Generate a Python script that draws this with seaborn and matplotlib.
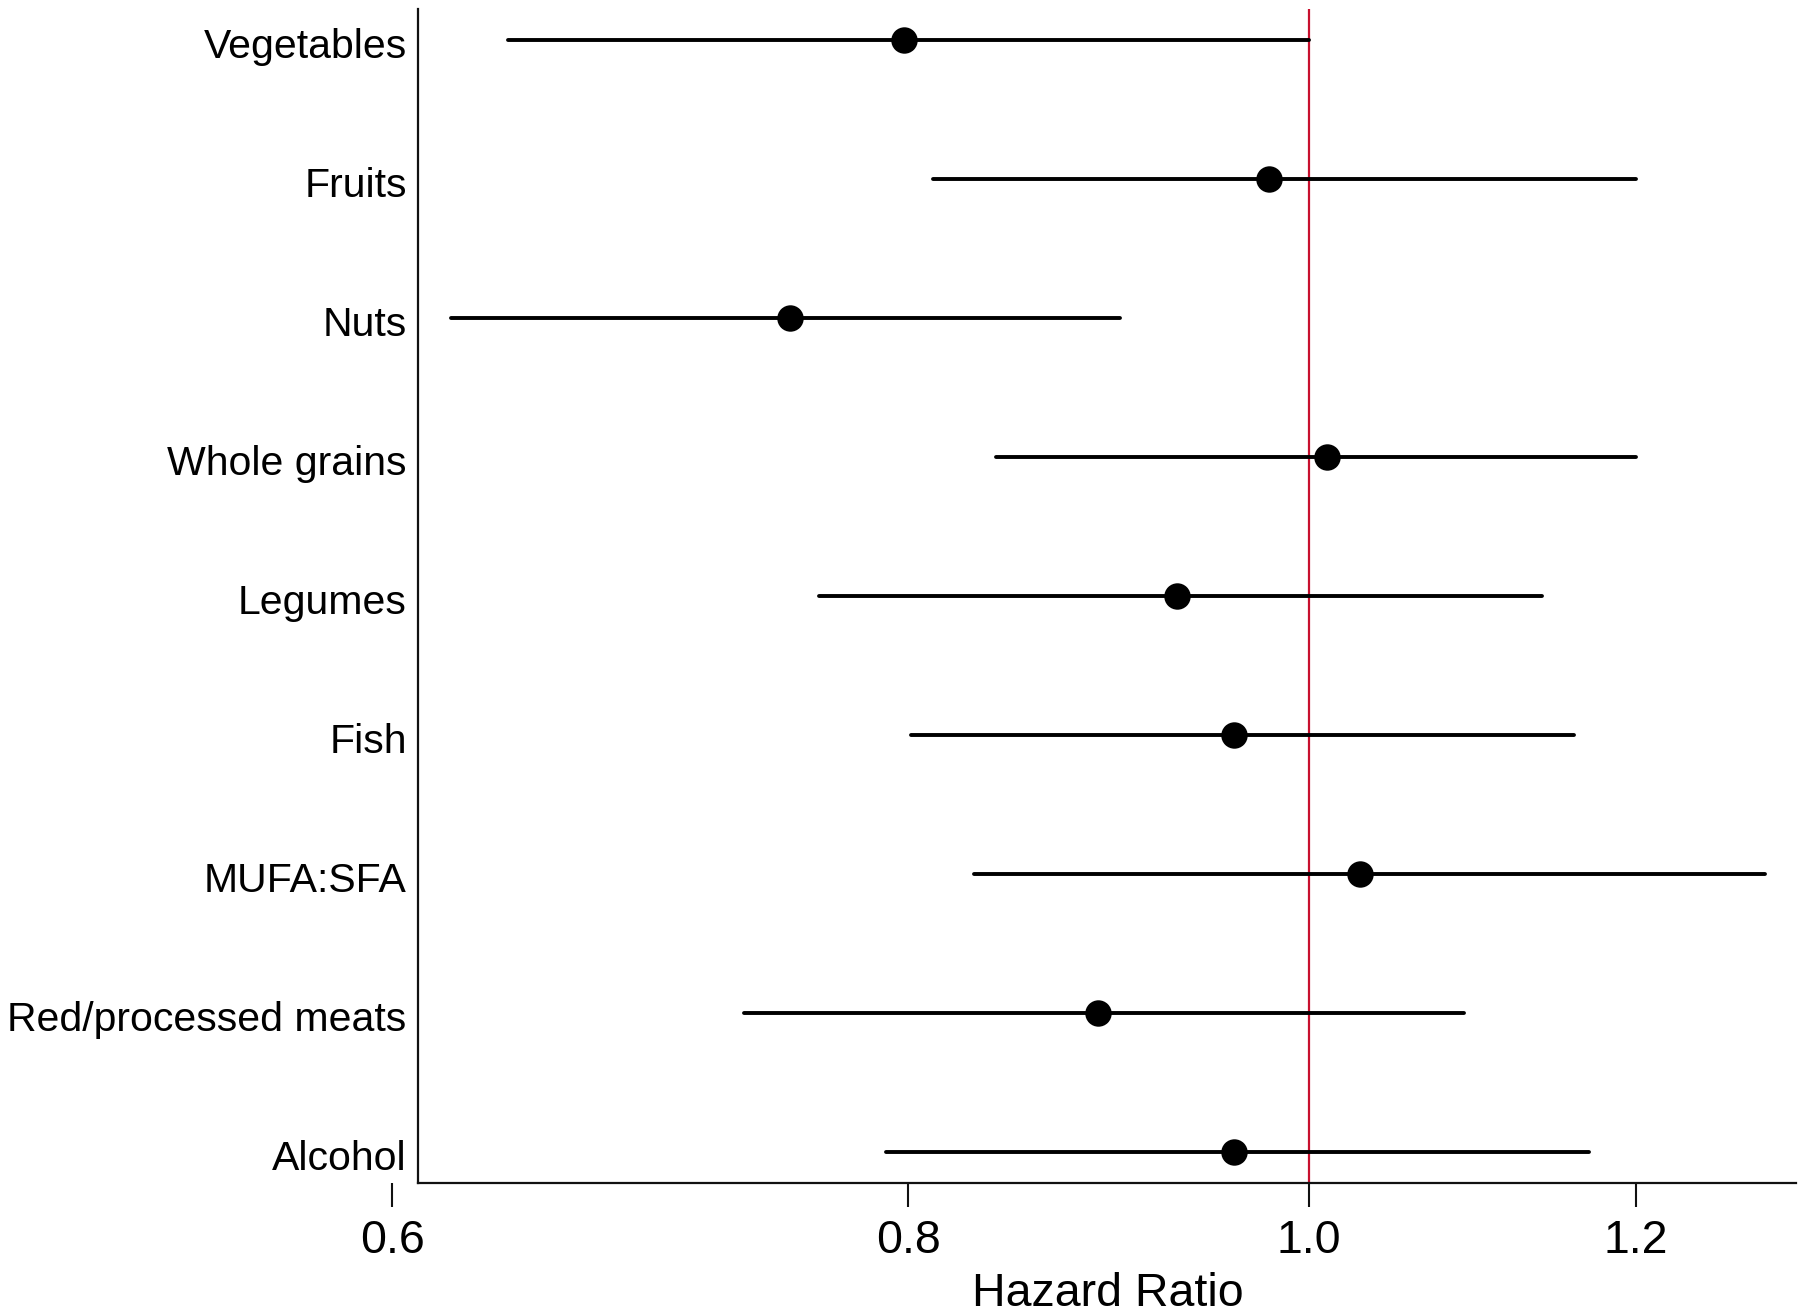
import matplotlib
matplotlib.use("Agg")
import matplotlib.pyplot as plt
from matplotlib.ticker import NullLocator, FixedLocator, FixedFormatter
from matplotlib.transforms import ScaledTranslation
import seaborn as sns
import pandas as pd

# ---- data ----
categories = ["Vegetables", "Fruits", "Nuts", "Whole grains", "Legumes",
              "Fish", "MUFA:SFA", "Red/processed meats", "Alcohol"]
hazard_ratio = [0.798, 0.978, 0.749, 1.010, 0.929, 0.959, 1.029, 0.889, 0.959]
ci_lower = [0.640, 0.811, 0.620, 0.840, 0.761, 0.801, 0.830, 0.730, 0.790]
ci_upper = [1.000, 1.200, 0.900, 1.200, 1.139, 1.159, 1.289, 1.090, 1.169]
x_ticks = [0.6, 0.8, 1.0, 1.2]
x_tick_labels = ["0.6", "0.8", "1.0", "1.2"]
reference_value = 1.0
x_axis_label = "Hazard Ratio"

# long-form table: median of (lower, estimate, upper) = estimate,
# 100% percentile interval = (lower, upper)
rows = []
for c, lo, est, hi in zip(categories, ci_lower, hazard_ratio, ci_upper):
    for v in (lo, est, hi):
        rows.append({"category": c, "hr": v})
df = pd.DataFrame(rows)

sns.set_style("ticks")
plt.rcParams["font.family"] = ["Liberation Sans", "DejaVu Sans"]
plt.rcParams["text.color"] = "black"
plt.rcParams["axes.labelcolor"] = "black"
plt.rcParams["xtick.color"] = "black"
plt.rcParams["ytick.color"] = "black"

fig = plt.figure(figsize=(18.10, 13.16), dpi=100)
ax = fig.add_axes([392 / 1810, 1 - 1183 / 1316, (1796 - 392) / 1810, (1183 - 9) / 1316])
ax.set_xscale("log")

sns.pointplot(data=df, x="hr", y="category", order=categories,
              estimator="median", errorbar=("pi", 100), orient="h",
              color="black", linestyle="none", markers="o", markersize=17,
              err_kws={"linewidth": 2.8}, capsize=0, ax=ax, zorder=3)

ax.axvline(reference_value, color="#C8102E", linewidth=1.6, zorder=1)

x_lo, x_hi, x_spine = 0.6, 1.3118, 0.6087
ax.set_xlim(x_lo, x_hi)
ax.set_ylim(len(categories) - 1 + 0.223, -0.223)

ax.xaxis.set_major_locator(FixedLocator(x_ticks))
ax.xaxis.set_major_formatter(FixedFormatter(x_tick_labels))
ax.xaxis.set_minor_locator(NullLocator())

for s in ("top", "right"):
    ax.spines[s].set_visible(False)
ax.spines["left"].set_position(("data", x_spine))
ax.spines["bottom"].set_bounds(x_spine, x_hi)
for s in ("left", "bottom"):
    ax.spines[s].set_linewidth(1.6)
    ax.spines[s].set_color("#111111")

ax.tick_params(axis="x", direction="out", length=17, width=1.5,
               labelsize=33.5, pad=9, color="#111111", labelcolor="black")
ax.tick_params(axis="y", length=0, labelsize=29.5, pad=8, labelcolor="black")

ax.set_ylabel("")
ax.set_xlabel(x_axis_label, fontsize=33.5, labelpad=4, color="black")
ax.xaxis.set_label_coords((1108 - 392) / (1796 - 392), -0.076)

shift = ScaledTranslation(0, -3 / 100, fig.dpi_scale_trans)
for lab in ax.get_yticklabels():
    lab.set_transform(lab.get_transform() + shift)

fig.savefig("out.png", dpi=100, facecolor="white")
